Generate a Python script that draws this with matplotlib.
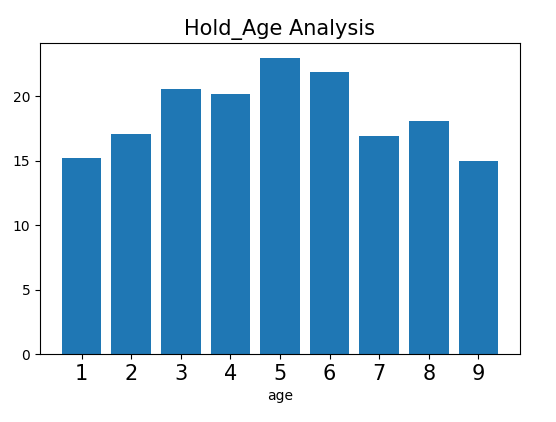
import matplotlib
matplotlib.use("Agg")
import matplotlib.pyplot as plt

ages = [1, 2, 3, 4, 5, 6, 7, 8, 9]
hold_values = [15.2, 17.1, 20.6, 20.2, 23.0, 21.9, 16.9, 18.1, 15.0]

fig = plt.figure(figsize=(5.56, 4.22), dpi=100)
ax = fig.add_axes([40 / 556, 68 / 422, 480 / 556, 311 / 422])
ax.bar(ages, hold_values, color='#1f77b4')
ax.set_xticks(ages)
ax.tick_params(axis='x', labelsize=15)
ax.tick_params(axis='y', labelsize=10)
ax.set_xlabel("age")
ax.set_title("Hold_Age Analysis", fontsize=15)
fig.savefig("out.png", dpi=100)
